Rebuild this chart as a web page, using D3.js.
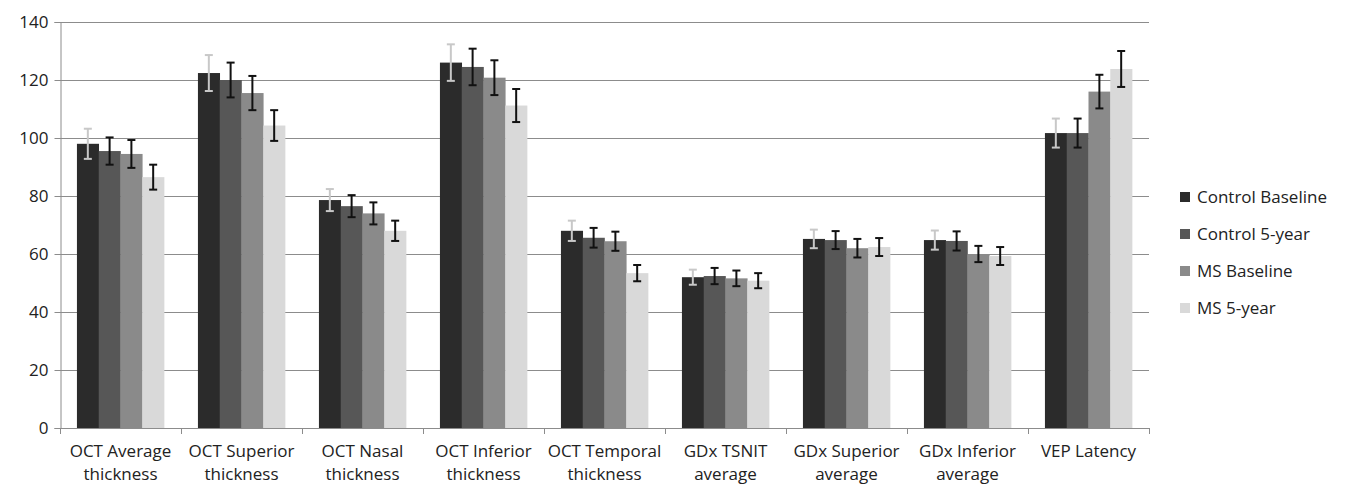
<!DOCTYPE html>
<html>
<head>
<meta charset="utf-8">
<script src="https://cdn.jsdelivr.net/npm/d3@7"></script>
<style>
  body { margin: 0; background: #fff; }
  text { font-family: "Open Sans", Lato, sans-serif; fill: #222; }
</style>
</head>
<body>
<div id="chart"></div>
<script>
const width = 1346;
const height = 487;

const categories = [
  ["OCT Average", "thickness"],
  ["OCT Superior", "thickness"],
  ["OCT Nasal", "thickness"],
  ["OCT Inferior", "thickness"],
  ["OCT Temporal", "thickness"],
  ["GDx TSNIT", "average"],
  ["GDx Superior", "average"],
  ["GDx Inferior", "average"],
  ["VEP Latency"]
];
const seriesNames = ["Control Baseline", "Control 5-year", "MS Baseline", "MS 5-year"];

// means, one array per series
const controlBaseline = [98, 122.4, 78.6, 126, 68, 52, 65.2, 64.8, 101.7];
const control5yr      = [95.5, 120, 76.5, 124.5, 65.6, 52.4, 64.8, 64.5, 101.7];
const msBaseline      = [94.5, 115.5, 74, 120.8, 64.4, 51.6, 62, 60, 116];
const ms5yr           = [86.5, 104.3, 68, 111.2, 53.4, 50.8, 62.4, 59.3, 123.8];

// error bar half-widths
const controlBaselineErr = [5.2, 6.2, 3.8, 6.3, 3.5, 2.6, 3.2, 3.3, 5];
const control5yrErr      = [4.7, 6, 3.8, 6.3, 3.4, 2.8, 3.1, 3.3, 5];
const msBaselineErr      = [4.8, 5.9, 3.8, 6, 3.3, 2.7, 3.2, 2.8, 5.8];
const ms5yrErr           = [4.3, 5.3, 3.5, 5.7, 2.8, 2.6, 3.1, 3.1, 6.2];

const yTicks = [0, 20, 40, 60, 80, 100, 120, 140];
const colors = ["#2b2b2b", "#575757", "#8a8a8a", "#d9d9d9"];
const errColors = ["#c8c8c8", "#111", "#111", "#111"];

const means = [controlBaseline, control5yr, msBaseline, ms5yr];
const errs = [controlBaselineErr, control5yrErr, msBaselineErr, ms5yrErr];

const margin = {top: 22, left: 60, right: 1149, bottom: 428};

const svg = d3.select("#chart").append("svg")
    .attr("width", width)
    .attr("height", height);

const x0 = d3.scaleBand()
    .domain(d3.range(categories.length))
    .range([margin.left, margin.right])
    .paddingInner(0.28)
    .paddingOuter(0.14);

const x1 = d3.scaleBand()
    .domain(d3.range(seriesNames.length))
    .range([0, x0.bandwidth()]);

const y = d3.scaleLinear()
    .domain([0, 140])
    .range([margin.bottom, margin.top]);

// gridlines
svg.append("g")
    .selectAll("line")
    .data(yTicks.slice(1))
    .join("line")
    .attr("x1", margin.left)
    .attr("x2", margin.right)
    .attr("y1", d => y(d) + 0.5)
    .attr("y2", d => y(d) + 0.5)
    .attr("stroke", "#8c8c8c")
    .attr("stroke-width", 1.2);

// y axis
const yAxis = svg.append("g")
    .attr("transform", `translate(${margin.left + 0.5},0)`)
    .call(d3.axisLeft(y).tickValues(yTicks).tickSize(6).tickPadding(6));
yAxis.select(".domain").attr("stroke", "#8c8c8c");
yAxis.selectAll(".tick line").attr("stroke", "#8c8c8c");
yAxis.selectAll(".tick text").style("font-size", "17px").attr("fill", "#222");

// x axis
const step = x0.step();
const xAxis = svg.append("g");
xAxis.append("line")
    .attr("x1", margin.left).attr("x2", margin.right)
    .attr("y1", margin.bottom + 0.5).attr("y2", margin.bottom + 0.5)
    .attr("stroke", "#8c8c8c").attr("stroke-width", 1.2);
xAxis.selectAll(".xtick")
    .data(d3.range(categories.length + 1))
    .join("line")
    .attr("class", "xtick")
    .attr("x1", i => margin.left + i * step + 0.5)
    .attr("x2", i => margin.left + i * step + 0.5)
    .attr("y1", margin.bottom)
    .attr("y2", margin.bottom + 6)
    .attr("stroke", "#8c8c8c");

const labels = xAxis.selectAll(".xlabel")
    .data(categories)
    .join("text")
    .attr("class", "xlabel")
    .attr("text-anchor", "middle")
    .style("font-size", "17px")
    .attr("x", (d, i) => x0(i) + x0.bandwidth() / 2)
    .attr("y", 457);
labels.selectAll("tspan")
    .data(d => d)
    .join("tspan")
    .attr("x", function() { return d3.select(this.parentNode).attr("x"); })
    .attr("dy", (d, i) => i === 0 ? 0 : 23)
    .text(d => d);

// bars
const groups = svg.append("g")
    .selectAll("g")
    .data(seriesNames)
    .join("g");

groups.selectAll("rect")
    .data((s, si) => means[si].map((v, ci) => ({si, ci, v})))
    .join("rect")
    .attr("x", d => x0(d.ci) + x1(d.si))
    .attr("width", x1.bandwidth() + 0.3)
    .attr("y", d => y(d.v))
    .attr("height", d => y(0) - y(d.v))
    .attr("fill", d => colors[d.si]);

// error bars
const eb = svg.append("g")
    .selectAll("g")
    .data(means.flatMap((arr, si) => arr.map((v, ci) => ({si, ci, v, e: errs[si][ci]}))))
    .join("g")
    .attr("stroke", d => errColors[d.si])
    .attr("stroke-width", 2);

const cx = d => x0(d.ci) + x1(d.si) + x1.bandwidth() / 2;
eb.append("line")
    .attr("x1", cx).attr("x2", cx)
    .attr("y1", d => y(d.v + d.e)).attr("y2", d => y(d.v - d.e));
eb.append("line")
    .attr("x1", d => cx(d) - 4).attr("x2", d => cx(d) + 4)
    .attr("y1", d => y(d.v + d.e)).attr("y2", d => y(d.v + d.e));
eb.append("line")
    .attr("x1", d => cx(d) - 4).attr("x2", d => cx(d) + 4)
    .attr("y1", d => y(d.v - d.e)).attr("y2", d => y(d.v - d.e));

// legend
const legend = svg.append("g")
    .selectAll("g")
    .data(seriesNames)
    .join("g")
    .attr("transform", (d, i) => `translate(1180,${197 + i * 37})`);
legend.append("rect")
    .attr("x", 0).attr("y", -5)
    .attr("width", 10).attr("height", 10)
    .attr("fill", (d, i) => colors[i]);
legend.append("text")
    .attr("x", 17)
    .attr("y", 0)
    .attr("dy", "0.35em")
    .style("font-size", "17px")
    .text(d => d);
</script>
</body>
</html>
